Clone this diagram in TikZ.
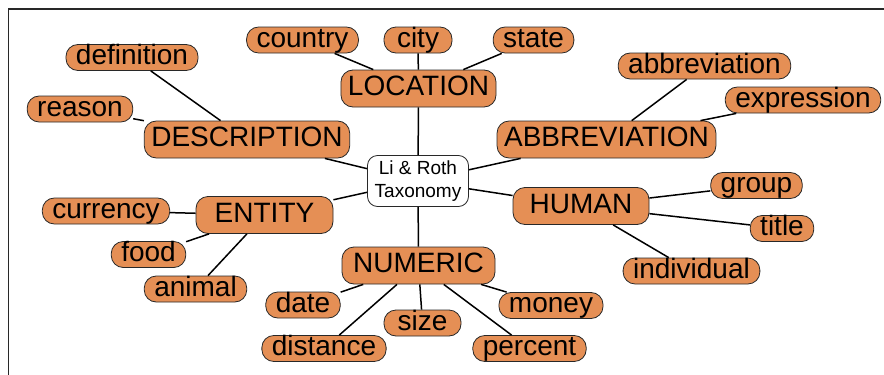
\documentclass[tikz,border=0pt]{standalone}
\usepackage{fontspec}
\setmainfont{Liberation Sans}
\definecolor{taxorange}{RGB}{229,143,85}
\definecolor{taxline}{RGB}{40,40,40}
\usepackage{tikz}

\begin{document}
\begin{tikzpicture}[x=1pt, y=-1pt,
  leaf/.style={rectangle, rounded corners=12pt, draw=taxline, line width=0.8pt, fill=taxorange,
    font=\fontsize{28}{30}\selectfont, text height=20pt, text depth=6pt, inner xsep=10pt, inner ysep=0pt},
  category/.style={leaf, inner xsep=7pt, inner ysep=5.5pt},
  root/.style={rectangle, rounded corners=10pt, draw=taxline, line width=0.8pt, fill=white,
    font=\fontsize{19}{22.6}\selectfont, align=center, minimum width=101pt, minimum height=51pt, inner sep=2pt},
  link/.style={line width=1.5pt, black}]
\useasboundingbox (0,0) rectangle (884,375);
% Frame
\draw[taxline, line width=1.5pt] (8.5,375) -- (8.5,9) -- (884,9);

% Root of the taxonomy
\node[root] (taxonomy) at (418,181) {Li \& Roth\\Taxonomy};

% Coarse classes
\node[category] (location) at (418.5,88.5) {LOCATION};
\node[category] (description) at (247,139.5) {DESCRIPTION};
\node[category] (abbreviation) at (606.5,139.5) {ABBREVIATION};
\node[category, minimum width=137pt] (entity) at (264.5,215) {ENTITY};
\node[category, minimum width=136pt] (human) at (581,206) {HUMAN};
\node[category, minimum width=153pt] (numeric) at (418.5,265.5) {NUMERIC};

% Fine classes
\node[leaf] (country) at (302.5,40) {country};
\node[leaf, minimum width=68pt] (city) at (418,40) {city};
\node[leaf] (state) at (533.5,40) {state};
\node[leaf] (definition) at (132,57.5) {definition};
\node[leaf] (reason) at (80,109) {reason};
\node[leaf] (abbrev) at (704.5,66) {abbreviation};
\node[leaf] (expression) at (803,100) {expression};
\node[leaf] (currency) at (106,211) {currency};
\node[leaf] (food) at (148.5,254.5) {food};
\node[leaf] (animal) at (195.5,289) {animal};
\node[leaf] (group) at (756.5,185.5) {group};
\node[leaf] (title) at (782,228.5) {title};
\node[leaf] (individual) at (691.5,271) {individual};
\node[leaf] (date) at (303,305) {date};
\node[leaf, minimum width=77pt] (size) at (422.5,323) {size};
\node[leaf] (money) at (551,305.5) {money};
\node[leaf] (distance) at (324,348.5) {distance};
\node[leaf] (percent) at (529.5,348.5) {percent};

% Root links
\draw[link] (taxonomy) -- (location);
\draw[link] (taxonomy) -- (description);
\draw[link] (taxonomy) -- (abbreviation);
\draw[link] (taxonomy) -- (entity);
\draw[link] (taxonomy) -- (human);
\draw[link] (taxonomy) -- (numeric);

% Class links
\draw[link] (location) -- (country);
\draw[link] (location) -- (city);
\draw[link] (location) -- (state);
\draw[link] (description) -- (definition);
\draw[link] (description) -- (reason);
\draw[link] (abbreviation) -- (abbrev);
\draw[link] (abbreviation) -- (expression);
\draw[link] (entity) -- (currency);
\draw[link] (entity) -- (food);
\draw[link] (entity) -- (animal);
\draw[link] (human) -- (group);
\draw[link] (human) -- (title);
\draw[link] (human) -- (individual);
\draw[link] (numeric) -- (date);
\draw[link] (numeric) -- (size);
\draw[link] (numeric) -- (money);
\draw[link] (numeric) -- (distance);
\draw[link] (numeric) -- (percent);
\end{tikzpicture}
\end{document}
